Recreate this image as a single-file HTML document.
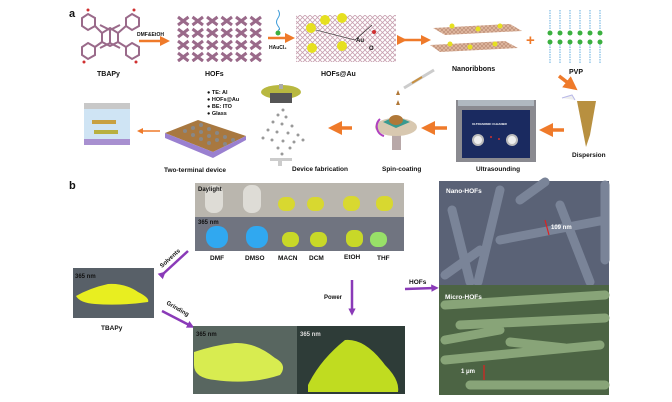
<!DOCTYPE html>
<html><head><meta charset="utf-8"><style>
html,body{margin:0;padding:0;background:#fff}
svg{display:block}
text{font-family:"Liberation Sans",sans-serif;font-weight:bold;fill:#111}
</style></head><body>
<svg width="672" height="402" viewBox="0 0 672 402" xmlns="http://www.w3.org/2000/svg">
<defs>
<pattern id="lat" width="14.5" height="12" patternUnits="userSpaceOnUse" x="176" y="15"><path d="M2 2L12.5 10M12.5 2L2 10" stroke="#9a6a8a" stroke-width="3"/></pattern>
<pattern id="lat2" width="5" height="5" patternUnits="userSpaceOnUse"><path d="M0 0L5 5M5 0L0 5" stroke="#c8a0b0" stroke-width="0.8"/></pattern>
<pattern id="lat3" width="4" height="4" patternUnits="userSpaceOnUse"><rect width="4" height="4" fill="#e0b8a0"/><path d="M0 0L4 4M4 0L0 4" stroke="#b88870" stroke-width="0.6"/></pattern>
<marker id="oa" markerWidth="4" markerHeight="4" refX="2" refY="2" orient="auto"><path d="M0 0L4 2L0 4z" fill="#ef7a2a"/></marker>
<marker id="pa" markerWidth="3" markerHeight="3" refX="1.5" refY="1.5" orient="auto"><path d="M0 0L3 1.5L0 3z" fill="#8a3ab8"/></marker>
</defs>
<text x="69" y="17" font-size="11">a</text>
<g stroke="#9a6a8a" stroke-width="2" fill="none">
<path d="M100 25L110 30L120 25M100 48L110 43L120 48M110 30L110 43"/>
<polygon points="88,14 95,18 95,26 88,30 82,26 82,18"/><polygon points="132,14 139,18 139,26 132,30 126,26 126,18"/>
<polygon points="88,43 95,47 95,55 88,59 82,55 82,47"/><polygon points="132,43 139,47 139,55 132,59 126,55 126,47"/>
<polygon points="110,28 118,33 118,42 110,46 102,42 102,33"/>
<path d="M95 26L102 33M126 26L118 33M95 47L102 42M126 47L118 42"/>
</g>
<g fill="#d03030"><circle cx="88" cy="10" r="1.5"/><circle cx="134" cy="10" r="1.5"/><circle cx="84" cy="62" r="1.5"/><circle cx="136" cy="62" r="1.5"/></g>
<text x="97" y="76" font-size="7">TBAPy</text>
<line x1="139" y1="41" x2="165" y2="41" stroke="#ef7a2a" stroke-width="2.5" marker-end="url(#oa)"/>
<text x="137" y="36" font-size="5" font-weight="normal">DMF&amp;EtOH</text>
<rect x="176" y="15" width="87" height="47" fill="url(#lat)"/>
<text x="205" y="76" font-size="7">HOFs</text>
<line x1="268" y1="38" x2="290" y2="38" stroke="#ef7a2a" stroke-width="2.5" marker-end="url(#oa)"/>
<path d="M278 10q3 4 0 8q-3 4 0 8q3 4 0 4" stroke="#3a9ad8" fill="none" stroke-width="1"/>
<circle cx="278" cy="33" r="2.5" fill="#3bb040"/>
<text x="269" y="49" font-size="5" font-weight="normal">HAuCl₄</text>
<rect x="296" y="15" width="100" height="47" fill="url(#lat2)"/>
<g fill="#e6e020"><circle cx="311" cy="28" r="5"/><circle cx="325" cy="20" r="5"/><circle cx="312" cy="48" r="5"/><circle cx="342" cy="18" r="5"/><circle cx="342" cy="46" r="5"/></g>
<circle cx="374" cy="32" r="2" fill="#d03030"/>
<path d="M316 30L355 40L372 25" stroke="#222" fill="none" stroke-width="0.6"/>
<text x="356" y="42" font-size="6" font-weight="normal">Au</text><text x="369" y="50" font-size="6" font-weight="normal">O</text>
<text x="321" y="76" font-size="7">HOFs@Au</text>
<line x1="402" y1="40" x2="426" y2="40" stroke="#ef7a2a" stroke-width="2.5" marker-end="url(#oa)" marker-start="url(#oa)"/>
<path d="M433 28L510 24L522 31L445 35z" fill="url(#lat3)"/><path d="M430 45L505 41L518 48L440 52z" fill="url(#lat3)"/>
<g fill="#e6e020"><circle cx="452" cy="26" r="2.5"/><circle cx="478" cy="29" r="2.5"/><circle cx="500" cy="26" r="2.5"/><circle cx="450" cy="44" r="2.5"/><circle cx="470" cy="47" r="2.5"/><circle cx="495" cy="44" r="2.5"/></g>
<text x="452" y="71" font-size="7">Nanoribbons</text>
<text x="526" y="45" font-size="15" style="fill:#ef7a2a">+</text>
<g stroke="#3a9ad8" fill="none" stroke-width="0.8" stroke-dasharray="1.5 1"><path d="M550 10v20M560 10v20M570 10v20M580 10v20M590 10v20M600 10v20M550 44v20M560 44v20M570 44v20M580 44v20M590 44v20M600 44v20"/></g>
<g fill="#3bb040"><circle cx="550" cy="33" r="2.5"/><circle cx="560" cy="33" r="2.5"/><circle cx="570" cy="33" r="2.5"/><circle cx="580" cy="33" r="2.5"/><circle cx="590" cy="33" r="2.5"/><circle cx="600" cy="33" r="2.5"/><circle cx="550" cy="42" r="2.5"/><circle cx="560" cy="42" r="2.5"/><circle cx="570" cy="42" r="2.5"/><circle cx="580" cy="42" r="2.5"/><circle cx="590" cy="42" r="2.5"/><circle cx="600" cy="42" r="2.5"/></g>
<text x="569" y="74" font-size="7">PVP</text>
<line x1="559" y1="76" x2="572" y2="86" stroke="#ef7a2a" stroke-width="3.5" marker-end="url(#oa)"/>
<path d="M562 98L572 95L575 100" stroke="#b8b8e8" fill="#eee" stroke-width="1"/>
<path d="M577 101L596 101L590 135L586 147z" fill="#b89040"/>
<text x="572" y="157" font-size="6.5">Dispersion</text>
<line x1="564" y1="130" x2="546" y2="130" stroke="#ef7a2a" stroke-width="3.5" marker-end="url(#oa)"/>
<rect x="456" y="100" width="80" height="62" fill="#8a8a90"/><rect x="458" y="100" width="76" height="6" fill="#b0b8c0"/><rect x="462" y="110" width="68" height="48" fill="#1a2a60"/>
<circle cx="478" cy="140" r="5" fill="#eee" stroke="#bbb" stroke-width="2"/><circle cx="512" cy="140" r="5" fill="#eee" stroke="#bbb" stroke-width="2"/>
<circle cx="491" cy="137" r="1" fill="#d03030"/><circle cx="499" cy="139" r="1" fill="#d03030"/>
<text x="472" y="125" font-size="3" style="fill:#fff">ULTRASONIC CLEANER</text>
<text x="476" y="171" font-size="6.5">Ultrasounding</text>
<line x1="447" y1="128" x2="428" y2="128" stroke="#ef7a2a" stroke-width="3.5" marker-end="url(#oa)"/>
<rect x="392" y="130" width="9" height="20" fill="#b8a8a8"/>
<ellipse cx="396" cy="127" rx="21" ry="9" fill="#d8c8b0"/>
<path d="M383 122L396 116L410 122L396 128z" fill="#3a9a90"/><ellipse cx="396" cy="120" rx="7" ry="5" fill="#b07838"/>
<path d="M398 100l-2 5h4z" fill="#b07838"/><path d="M398 90l-2 5h4z" fill="#b07838"/>
<path d="M404 88L434 70" stroke="#ccc" stroke-width="3"/><path d="M412 83L422 77" stroke="#c89040" stroke-width="2"/>
<path d="M380 119a10 10 0 0 0 4 17" stroke="#b040c0" fill="none" stroke-width="2"/>
<text x="382" y="171" font-size="6.5">Spin-coating</text>
<line x1="352" y1="128" x2="335" y2="128" stroke="#ef7a2a" stroke-width="3.5" marker-end="url(#oa)"/>
<ellipse cx="281" cy="92" rx="20" ry="7" fill="#b8b840"/><rect x="270" y="93" width="22" height="10" fill="#555"/><rect x="279" y="84" width="4" height="5" fill="#aaa"/>
<g fill="#999"><circle cx="283" cy="110" r="1.5"/><circle cx="278" cy="115" r="1.5"/><circle cx="286" cy="117" r="1.5"/><circle cx="273" cy="122" r="1.5"/><circle cx="282" cy="124" r="1.5"/><circle cx="292" cy="126" r="1.5"/><circle cx="268" cy="130" r="1.5"/><circle cx="277" cy="132" r="1.5"/><circle cx="288" cy="133" r="1.5"/><circle cx="298" cy="135" r="1.5"/><circle cx="263" cy="138" r="1.5"/><circle cx="272" cy="140" r="1.5"/><circle cx="283" cy="141" r="1.5"/><circle cx="294" cy="142" r="1.5"/><circle cx="303" cy="140" r="1.5"/><circle cx="278" cy="148" r="1.5"/><circle cx="290" cy="148" r="1.5"/><circle cx="282" cy="154" r="1.5"/></g>
<rect x="270" y="158" width="22" height="3" fill="#ccc"/><rect x="278" y="158" width="4" height="8" fill="#ccc"/>
<text x="292" y="171" font-size="6.5">Device fabrication</text>
<path d="M165 133L198 120L246 136L213 152z" fill="#a87840"/><path d="M165 133L213 152L246 136L246 140L213 158L165 138z" fill="#9a80d0"/>
<g fill="#888"><circle cx="185" cy="131" r="2"/><circle cx="193" cy="128" r="2"/><circle cx="201" cy="125" r="2"/><circle cx="193" cy="135" r="2"/><circle cx="201" cy="132" r="2"/><circle cx="209" cy="129" r="2"/><circle cx="201" cy="139" r="2"/><circle cx="209" cy="136" r="2"/><circle cx="217" cy="133" r="2"/><circle cx="209" cy="143" r="2"/><circle cx="217" cy="140" r="2"/><circle cx="225" cy="137" r="2"/><circle cx="225" cy="144" r="2"/><circle cx="233" cy="140" r="2"/></g>
<text x="207" y="94" font-size="5.5" font-weight="normal">● TE: Al</text><text x="207" y="101" font-size="5.5" font-weight="normal">● HOFs@Au</text><text x="207" y="108" font-size="5.5" font-weight="normal">● BE: ITO</text><text x="207" y="115" font-size="5.5" font-weight="normal">● Glass</text>
<text x="164" y="172" font-size="6.5">Two-terminal device</text>
<line x1="160" y1="131" x2="140" y2="131" stroke="#ef7a2a" stroke-width="1.5" marker-end="url(#oa)"/>
<rect x="84" y="108" width="46" height="34" fill="#cfe4f4"/><rect x="84" y="103" width="46" height="6" fill="#c8c8c8"/><rect x="84" y="139" width="46" height="6" fill="#a890d0"/>
<rect x="92" y="120" width="24" height="4" fill="#c8a040"/><rect x="94" y="130" width="24" height="4" fill="#b8b040"/>
<!-- b -->
<text x="69" y="189" font-size="11">b</text>
<rect x="195" y="183" width="209" height="34" fill="#bab6ae"/>
<rect x="195" y="217" width="209" height="34" fill="#707480"/>
<g fill="#dedcd6"><rect x="205" y="185" width="18" height="28" rx="8"/><rect x="243" y="185" width="18" height="28" rx="8"/></g>
<g fill="#d8d830"><rect x="278" y="197" width="17" height="14" rx="7"/><rect x="307" y="197" width="17" height="14" rx="7"/><rect x="343" y="196" width="17" height="15" rx="7"/><rect x="376" y="196" width="17" height="15" rx="7"/></g>
<g fill="#30a8f0"><rect x="206" y="226" width="22" height="22" rx="10"/><rect x="246" y="226" width="22" height="22" rx="10"/></g>
<g fill="#c8d828"><rect x="282" y="232" width="17" height="15" rx="7"/><rect x="310" y="232" width="17" height="15" rx="7"/><rect x="346" y="230" width="17" height="17" rx="7"/></g><rect x="370" y="232" width="17" height="15" rx="7" fill="#98e068"/>
<text x="198" y="191" font-size="6">Daylight</text><text x="198" y="224" font-size="6">365 nm</text>
<g font-size="6.5" font-weight="normal"><text x="210" y="260">DMF</text><text x="245" y="260">DMSO</text><text x="278" y="260">MACN</text><text x="309" y="260">DCM</text><text x="344" y="259">EtOH</text><text x="377" y="260">THF</text></g>
<rect x="439" y="181" width="170" height="104" fill="#5a6276"/>
<g stroke="#7a8498" stroke-width="9" stroke-linecap="round"><path d="M452 210L470 282M500 190L478 282M500 240L605 220M560 205L590 282M605 185L605 260M445 275L480 250M520 200L545 182"/></g>
<rect x="439" y="285" width="170" height="110" fill="#4c6444"/>
<g stroke="#88a478" stroke-width="9" stroke-linecap="round"><path d="M445 305L605 295M460 325L605 318M445 360L600 345M470 385L605 385M510 342L565 348M445 340L500 330"/></g>
<text x="446" y="193" font-size="6.5" style="fill:#fff">Nano-HOFs</text>
<text x="445" y="299" font-size="6.5" style="fill:#fff">Micro-HOFs</text>
<line x1="545" y1="220" x2="549" y2="235" stroke="#e02020" stroke-width="1.2"/><text x="551" y="229" font-size="6" font-weight="normal" style="fill:#fff">109 nm</text>
<line x1="484" y1="365" x2="484" y2="380" stroke="#e02020" stroke-width="1.2"/><text x="461" y="373" font-size="6" font-weight="normal" style="fill:#fff">1 μm</text>
<rect x="73" y="268" width="81" height="50" fill="#586068"/>
<path d="M76 296Q90 288 108 284Q125 283 138 292Q150 298 148 302Q120 306 95 304Q80 303 76 296z" fill="#e8ee20"/>
<text x="75" y="278" font-size="6">365 nm</text>
<text x="101" y="330" font-size="6.5">TBAPy</text>
<path d="M163 274L188 251" stroke="#8a3ab8" stroke-width="2.5" marker-start="url(#pa)"/><text x="0" y="0" font-size="6" transform="translate(162,268) rotate(-42)">Solvents</text>
<path d="M162 311L191 326" stroke="#8a3ab8" stroke-width="2.5" marker-end="url(#pa)"/><text x="0" y="0" font-size="6" transform="translate(166,304) rotate(30)">Grinding</text>
<path d="M352 280L352 312" stroke="#8a3ab8" stroke-width="2.5" marker-end="url(#pa)"/><text x="324" y="299" font-size="6" font-weight="normal">Power</text>
<path d="M405 289L435 288" stroke="#8a3ab8" stroke-width="2.5" marker-end="url(#pa)"/><text x="409" y="284" font-size="6.5" font-weight="normal">HOFs</text>
<rect x="193" y="326" width="104" height="68" fill="#586660"/><rect x="297" y="326" width="108" height="68" fill="#2e3c38"/>
<path d="M194 352Q215 345 235 343Q255 342 275 358Q288 365 280 375Q250 385 215 380Q194 378 194 365z" fill="#d8ec50"/>
<path d="M308 385Q320 360 345 340Q365 338 385 365Q400 380 398 392L308 392z" fill="#c0dc20"/>
<text x="196" y="336" font-size="6">365 nm</text><text x="300" y="336" font-size="6" style="fill:#ddd">365 nm</text>
</svg>
</body></html>
